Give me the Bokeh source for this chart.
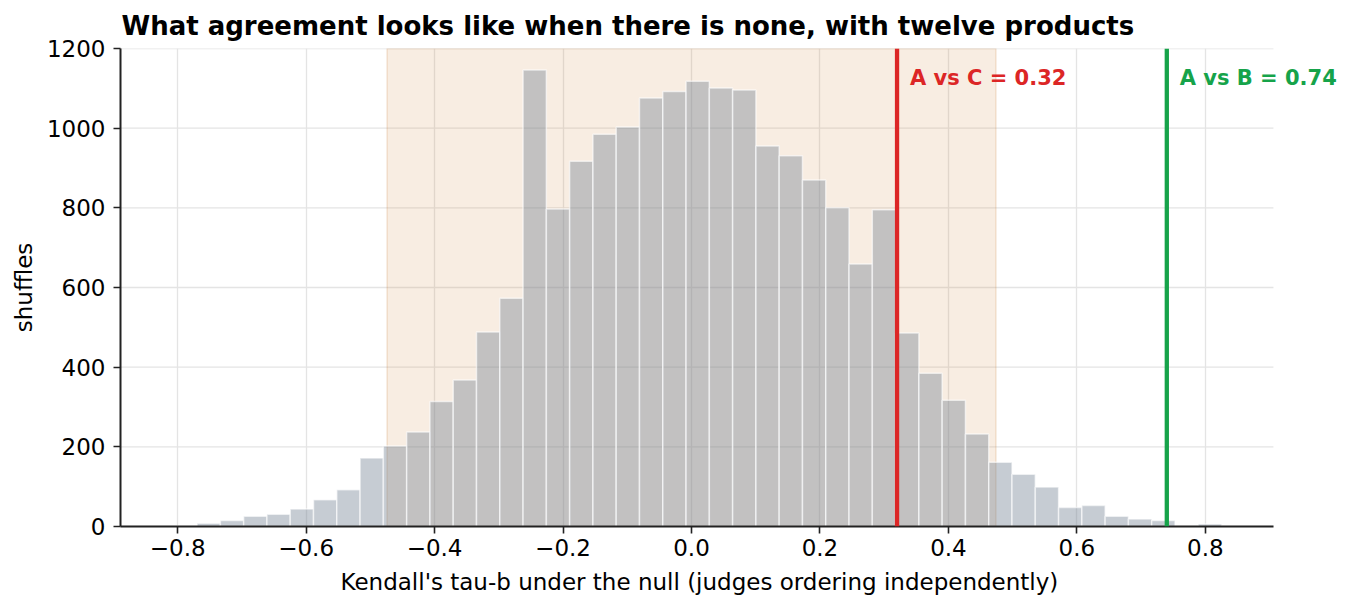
import numpy as np
from bokeh.plotting import figure
from bokeh.models import ColumnDataSource, Range1d, BoxAnnotation, Span, Label, FixedTicker, Title
from bokeh.embed import file_html
from bokeh.resources import INLINE

# histogram of Kendall's tau-b under the null
bin_start = -0.806
bin_width = 0.03625
counts = [1, 8, 15, 26, 31, 44, 67, 92, 172, 202, 237, 314, 368, 488, 573,
          1146, 797, 917, 985, 1003, 1076, 1092, 1118, 1101, 1096, 955, 931,
          870, 800, 659, 795, 486, 385, 317, 232, 161, 131, 99, 48, 53, 26,
          19, 15, 0, 6]

# central band and the two observed pairs
band_lo, band_hi = -0.474, 0.474
observed_names = ["A vs C", "A vs B"]
observed_tau = [0.32, 0.74]
observed_colors = ["#dc2626", "#16a34a"]

x_ticks = [-0.8, -0.6, -0.4, -0.2, 0.0, 0.2, 0.4, 0.6, 0.8]
y_ticks = [0, 200, 400, 600, 800, 1000, 1200]

FONT = "DejaVu Sans"
X_MIN, X_MAX = -0.889, 0.906
PX_PER_UNIT = 642.3
LEFT, RIGHT, TOP, BOTTOM = 120, 8, 48, 84
W, H = 1352, 610

edges = bin_start + bin_width * np.arange(len(counts) + 1)
src = ColumnDataSource(dict(left=edges[:-1], right=edges[1:],
                            top=counts, bottom=[0] * len(counts)))

# frame runs past the axis end so the right-hand label is not clipped
x_end = X_MIN + (W - LEFT - RIGHT) / PX_PER_UNIT

p = figure(width=W, height=H, output_backend="svg", toolbar_location=None,
           x_range=Range1d(X_MIN, x_end), y_range=Range1d(0, 1200),
           min_border_left=LEFT, min_border_right=RIGHT, min_border_top=TOP,
           min_border_bottom=BOTTOM)

p.title.text = "What agreement looks like when there is none, with twelve products"
p.title.text_font = FONT
p.title.text_font_size = "26px"
p.title.text_font_style = "bold"
p.title.text_color = "black"
p.title.offset = 1
p.title.standoff = 15
p.outline_line_color = None
p.background_fill_color = "white"

# horizontal grid lines only up to the end of the x axis
p.segment(x0=[X_MIN] * len(y_ticks), x1=[X_MAX] * len(y_ticks), y0=y_ticks, y1=y_ticks,
          line_color="#e4e4e4", line_width=1.3, level="underlay")
p.ygrid.grid_line_color = None
p.xgrid.ticker = FixedTicker(ticks=x_ticks)
p.xgrid.grid_line_color = "#e4e4e4"
p.xgrid.grid_line_width = 1.3

band = BoxAnnotation(left=band_lo, right=band_hi, fill_color="peru", fill_alpha=0.15,
                     line_color="peru", line_alpha=0.2, line_width=1.5, level="underlay")
p.add_layout(band)

p.quad(left="left", right="right", top="top", bottom="bottom", source=src,
       fill_color="slategray", fill_alpha=0.4, line_color="white", line_alpha=0.6,
       line_width=1.5)

for name, tau, col in zip(observed_names, observed_tau, observed_colors):
    p.add_layout(Span(location=tau, dimension="height", line_color=col, line_width=4.3))
    p.add_layout(Label(x=tau + 0.02, y=1125, text=f"{name} = {tau:.2f}",
                       text_color=col, text_font=FONT, text_font_size="21px",
                       text_font_style="bold", text_baseline="middle"))

p.xaxis.ticker = FixedTicker(ticks=x_ticks)
p.xaxis.major_label_overrides = {t: f"{t:.1f}".replace("-", "\u2212") for t in x_ticks}
p.xaxis.bounds = (X_MIN, X_MAX)
p.yaxis.ticker = FixedTicker(ticks=y_ticks)

p.yaxis.axis_label = "shuffles"

for ax in (p.xaxis, p.yaxis):
    ax.axis_line_color = "#222222"
    ax.axis_line_width = 2
    ax.major_tick_line_color = "#222222"
    ax.major_tick_line_width = 1.6
    ax.major_tick_out = 7
    ax.major_tick_in = 0
    ax.minor_tick_line_color = None
    ax.major_label_text_font = FONT
    ax.major_label_text_font_size = "23px"
    ax.major_label_text_color = "black"
    ax.axis_label_text_font = FONT
    ax.axis_label_text_font_size = "23px"
    ax.axis_label_text_font_style = "normal"
    ax.axis_label_text_color = "black"

p.yaxis.major_label_standoff = 8
p.xaxis.major_label_standoff = 5
p.yaxis.axis_label_standoff = 7

# x label centred under the axis itself, not under the wider frame
xlab = Title(text="Kendall's tau-b under the null (judges ordering independently)",
             align="left", offset=220, standoff=16, text_font=FONT,
             text_font_size="23px", text_font_style="normal", text_color="black")
p.add_layout(xlab, "below")

open("out.html", "w").write(file_html(p, INLINE))
